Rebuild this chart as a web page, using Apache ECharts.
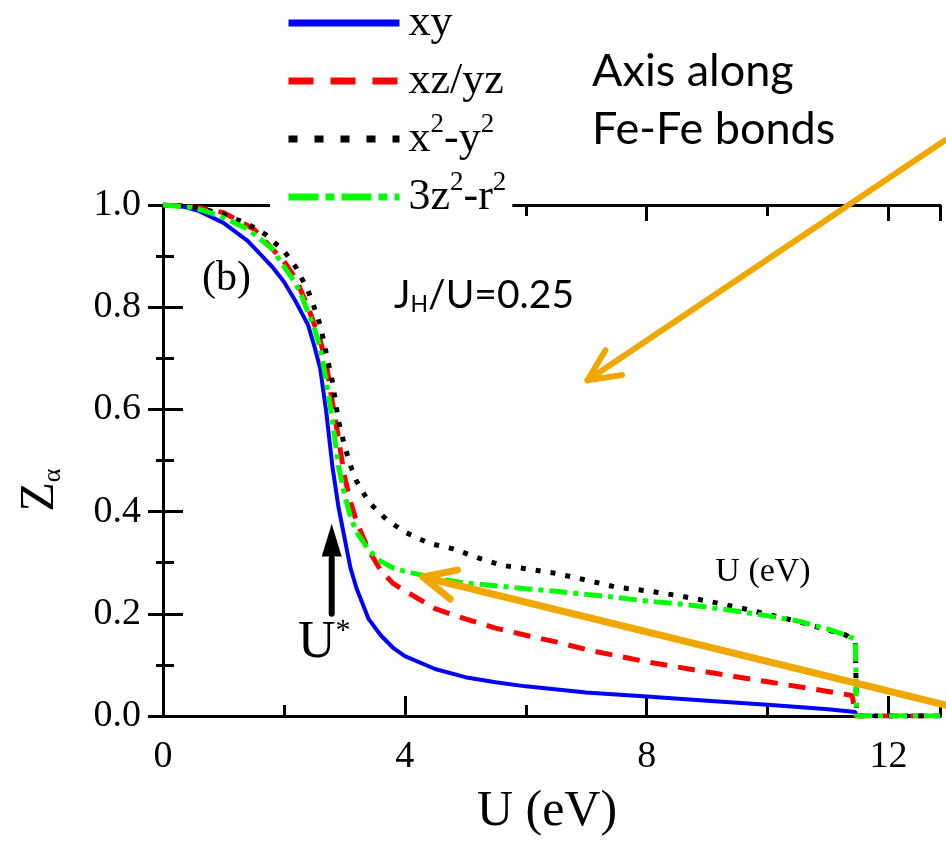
<!DOCTYPE html>
<html>
<head>
<meta charset="utf-8">
<script src="https://cdn.jsdelivr.net/npm/echarts@6/dist/echarts.min.js"></script>
<style>
  html, body { margin: 0; padding: 0; background: #ffffff; }
  #chart { width: 946px; height: 846px; }
</style>
</head>
<body>
<div id="chart"></div>
<script>
// Orbital-resolved quasiparticle weight Z_alpha versus Hubbard U (J_H/U = 0.25)

// xy orbital
const xyU = [0, 0.3, 0.6, 1.0, 1.4, 1.8, 2.0, 2.2, 2.4, 2.5, 2.6, 2.7, 2.8, 2.9, 3.0, 3.1, 3.2, 3.4, 3.6, 3.8, 4.0, 4.5, 5.0, 5.5, 6.0, 7.0, 8.0, 9.0, 10.0, 11.0, 11.45, 11.46, 12.85];
const xyZ = [1.0, 0.998, 0.988, 0.965, 0.93, 0.88, 0.85, 0.81, 0.765, 0.725, 0.68, 0.595, 0.49, 0.41, 0.35, 0.29, 0.25, 0.19, 0.158, 0.134, 0.117, 0.092, 0.076, 0.066, 0.058, 0.046, 0.038, 0.030, 0.022, 0.013, 0.008, 0, 0];

// xz/yz orbitals
const xzU = [0, 0.5, 1.0, 1.5, 2.0, 2.2, 2.4, 2.6, 2.7, 2.8, 2.9, 3.0, 3.1, 3.2, 3.4, 3.6, 3.8, 4.0, 4.5, 5.0, 5.5, 6.0, 6.5, 7.0, 8.0, 9.0, 10.0, 11.0, 11.4, 11.45, 12.85];
const xzZ = [1.0, 0.997, 0.985, 0.953, 0.89, 0.855, 0.8, 0.735, 0.69, 0.615, 0.545, 0.47, 0.42, 0.38, 0.325, 0.285, 0.26, 0.245, 0.21, 0.19, 0.172, 0.158, 0.145, 0.13, 0.106, 0.086, 0.067, 0.048, 0.04, 0, 0];

// x^2-y^2 orbital
const x2y2U = [0, 0.5, 1.0, 1.4, 1.7, 2.0, 2.2, 2.4, 2.5, 2.6, 2.7, 2.8, 2.9, 3.0, 3.1, 3.2, 3.4, 3.7, 4.0, 4.4, 4.8, 5.2, 5.6, 6.0, 6.5, 7.0, 7.5, 8.0, 8.5, 9.0, 9.5, 10.0, 10.5, 11.0, 11.3, 11.45, 11.47, 12.85];
const x2y2Z = [1.0, 0.997, 0.982, 0.963, 0.942, 0.91, 0.878, 0.832, 0.80, 0.765, 0.71, 0.655, 0.579, 0.53, 0.49, 0.46, 0.419, 0.384, 0.36, 0.338, 0.327, 0.31, 0.295, 0.288, 0.279, 0.266, 0.252, 0.245, 0.236, 0.225, 0.213, 0.199, 0.185, 0.168, 0.158, 0.145, 0, 0];

// 3z^2-r^2 orbital
const z2U = [0, 0.5, 0.8, 1.0, 1.4, 1.8, 2.0, 2.2, 2.3, 2.5, 2.6, 2.7, 2.8, 2.9, 3.0, 3.1, 3.2, 3.4, 3.6, 3.8, 4.0, 4.5, 5.0, 5.5, 6.0, 6.5, 7.0, 7.5, 8.0, 8.5, 9.0, 9.5, 10.0, 10.5, 11.0, 11.3, 11.45, 11.47, 12.85];
const z2Z = [1.0, 0.995, 0.984, 0.975, 0.953, 0.915, 0.88, 0.845, 0.82, 0.76, 0.72, 0.655, 0.58, 0.49, 0.435, 0.39, 0.36, 0.325, 0.303, 0.29, 0.283, 0.27, 0.26, 0.255, 0.249, 0.244, 0.238, 0.232, 0.225, 0.22, 0.213, 0.205, 0.196, 0.186, 0.17, 0.158, 0.15, 0, 0];

const seriesNames = ['xy', 'xz/yz', 'x^2-y^2', '3z^2-r^2'];
const legendLabels = ['xy', 'xz/yz', 'x{sup|2}-y{sup|2}', '3z{sup|2}-r{sup|2}'];
const xTickLabels = ['0', '4', '8', '12'];
const yTickLabels = ['0.0', '0.2', '0.4', '0.6', '0.8', '1.0'];

const uMin = 0, uMax = 12.85;

function pairs(xs, ys) { return xs.map((x, i) => [x, ys[i]]); }

const serif = 'Liberation Serif';
const ink = '#000000';
const orange = '#F0A800';

const chart = echarts.init(document.getElementById('chart'));

const axisLineStyle = { show: true, lineStyle: { color: ink, width: 3 } };

function xAxisDef(position, interval, tickLen, labels) {
  return {
    type: 'value', position: position, min: uMin, max: uMax, interval: interval,
    axisLine: axisLineStyle,
    axisTick: { show: true, inside: true, length: tickLen, lineStyle: { color: ink, width: 3 } },
    axisLabel: labels ? {
      show: true, fontFamily: serif, fontSize: 38, color: ink, margin: 22,
      showMaxLabel: false,
      formatter: v => { const k = Math.round(v / 4); return Math.abs(v - 4 * k) < 1e-6 ? xTickLabels[k] : ''; }
    } : { show: false },
    splitLine: { show: false }
  };
}

function yAxisDef(position, tickLen, minorLen, labels) {
  return {
    type: 'value', position: position, min: 0, max: 1, interval: 0.2,
    axisLine: axisLineStyle,
    axisTick: { show: true, inside: true, length: tickLen, lineStyle: { color: ink, width: 3 } },
    minorTick: { show: true, splitNumber: 2, length: minorLen, lineStyle: { color: ink, width: 3 } },
    axisLabel: labels ? {
      show: true, fontFamily: serif, fontSize: 38, color: ink, margin: 22,
      formatter: v => yTickLabels[Math.round(v / 0.2)]
    } : { show: false },
    splitLine: { show: false },
    minorSplitLine: { show: false }
  };
}

const styles = [
  { color: '#0000FF', width: 4, type: 'solid', legendType: 'solid' },
  { color: '#FF0000', width: 5, type: [17, 11], legendType: [25, 17] },
  { color: '#000000', width: 5, type: [5, 10], legendType: [9, 17] },
  { color: '#00FF00', width: 5, type: [18, 6, 5, 6], legendType: [30, 7, 9, 7] }
];
const dataSets = [pairs(xyU, xyZ), pairs(xzU, xzZ), pairs(x2y2U, x2y2Z), pairs(z2U, z2Z)];

chart.setOption({
  animation: false,
  backgroundColor: '#ffffff',
  grid: { left: 163, right: 6, top: 205, bottom: 130, containLabel: false },
  xAxis: [
    xAxisDef('bottom', 4, 20, true),
    xAxisDef('bottom', 2, 11, false),
    xAxisDef('top', 4, 16, false),
    xAxisDef('top', 2, 11, false)
  ],
  yAxis: [
    yAxisDef('left', 20, 11, true),
    yAxisDef('right', 15, 7, false)
  ],
  legend: {
    orient: 'vertical', left: 270, top: -5,
    padding: [0, 6, 0, 15],
    backgroundColor: '#ffffff',
    itemWidth: 111, itemHeight: 14, itemGap: 2,
    inactiveColor: '#ccc',
    lineStyle: { width: 7 },
    itemStyle: { opacity: 0 },
    textStyle: {
      fontFamily: serif, fontSize: 44, color: ink, lineHeight: 56, padding: [0, 0, 0, 4],
      rich: { sup: { fontFamily: serif, fontSize: 27, color: ink, verticalAlign: 'top', lineHeight: 14 } }
    },
    formatter: name => legendLabels[seriesNames.indexOf(name)],
    data: seriesNames.map((n, i) => ({
      name: n,
      itemStyle: { opacity: 0 },
      lineStyle: { type: styles[i].legendType, width: 7, color: styles[i].color }
    })),
    z: 20
  },
  series: seriesNames.map((n, i) => ({
    name: n, type: 'line', data: dataSets[i], symbol: 'none', smooth: false,
    xAxisIndex: 0, yAxisIndex: 0,
    itemStyle: { color: styles[i].color },
    lineStyle: { color: styles[i].color, width: styles[i].width, type: styles[i].type },
    z: 3 + i
  }))
});

// Annotations placed in data coordinates
function px(u, z) { return chart.convertToPixel({ xAxisIndex: 0, yAxisIndex: 0 }, [u, z]); }

function arrowHead(tip, from, len, halfAngle) {
  const ang = Math.atan2(from[1] - tip[1], from[0] - tip[0]);
  return [
    [tip[0] + len * Math.cos(ang + halfAngle), tip[1] + len * Math.sin(ang + halfAngle)],
    tip,
    [tip[0] + len * Math.cos(ang - halfAngle), tip[1] + len * Math.sin(ang - halfAngle)]
  ];
}

const a1From = px(12.94, 1.127), a1Tip = px(7.02, 0.657);
const a2From = px(12.94, 0.0215), a2Tip = px(4.30, 0.272);
const ustarBase = px(2.79, 0.2), ustarTip = px(2.79, 0.376), ustarHead = px(2.79, 0.312);

chart.setOption({
  graphic: [
    // black U* arrow
    { type: 'line', z: 30, shape: { x1: ustarBase[0], y1: ustarBase[1], x2: ustarHead[0], y2: ustarHead[1] + 2 },
      style: { stroke: ink, lineWidth: 6, lineCap: 'round' } },
    { type: 'polygon', z: 30, shape: { points: [ustarTip, [ustarTip[0] - 10, ustarHead[1]], [ustarTip[0] + 10, ustarHead[1]]] },
      style: { fill: ink } },
    // orange arrows
    { type: 'line', z: 40, shape: { x1: a1From[0], y1: a1From[1], x2: a1Tip[0], y2: a1Tip[1] },
      style: { stroke: orange, lineWidth: 6, lineCap: 'round' } },
    { type: 'polyline', z: 40, shape: { points: arrowHead(a1Tip, a1From, 35, 0.44) },
      style: { stroke: orange, lineWidth: 6, lineCap: 'round', lineJoin: 'round', fill: null } },
    { type: 'line', z: 40, shape: { x1: a2From[0], y1: a2From[1], x2: a2Tip[0], y2: a2Tip[1] },
      style: { stroke: orange, lineWidth: 7, lineCap: 'round' } },
    { type: 'polyline', z: 40, shape: { points: arrowHead(a2Tip, a2From, 35, 0.44) },
      style: { stroke: orange, lineWidth: 7, lineCap: 'round', lineJoin: 'round', fill: null } },
    // texts
    { type: 'text', z: 30, x: 592, y: 71, style: { text: 'Axis along', font: '45px Lato', fill: ink, align: 'left', verticalAlign: 'middle' } },
    { type: 'text', z: 30, x: 592, y: 129, style: { text: 'Fe-Fe bonds', font: '45px Lato', fill: ink, align: 'left', verticalAlign: 'middle' } },
    { type: 'text', z: 30, x: 394, y: 295, style: {
        text: 'J{sub|H}/U=0.25', fontFamily: 'Lato', fontSize: 39, fill: ink, align: 'left', verticalAlign: 'middle', lineHeight: 42,
        rich: { sub: { fontFamily: 'Lato', fontSize: 23, fill: ink, verticalAlign: 'bottom', lineHeight: 22 } } } },
    { type: 'text', z: 30, x: 202, y: 279, style: { text: '(b)', font: '42px "Liberation Serif"', fill: ink, align: 'left', verticalAlign: 'middle' } },
    { type: 'text', z: 30, x: 763, y: 572, style: { text: 'U (eV)', font: '34px "Liberation Serif"', fill: ink, align: 'center', verticalAlign: 'middle' } },
    { type: 'text', z: 30, x: 298, y: 643, style: {
        text: 'U{sup|*}', fontFamily: serif, fontSize: 52, fill: ink, align: 'left', verticalAlign: 'middle', lineHeight: 54,
        rich: { sup: { fontFamily: serif, fontSize: 30, fill: ink, verticalAlign: 'top', lineHeight: 22 } } } },
    { type: 'text', z: 30, x: 547, y: 812, style: { text: 'U (eV)', font: '50px "Liberation Serif"', fill: ink, align: 'center', verticalAlign: 'middle' } },
    { type: 'text', z: 30, x: 40, y: 490, rotation: Math.PI / 2, style: {
        text: 'Z{sub|α}', fontFamily: serif, fontSize: 48, fill: ink, align: 'center', verticalAlign: 'middle', lineHeight: 52,
        rich: { sub: { fontFamily: serif, fontSize: 26, fill: ink, verticalAlign: 'bottom', lineHeight: 30 } } } }
  ]
});
</script>
</body>
</html>
